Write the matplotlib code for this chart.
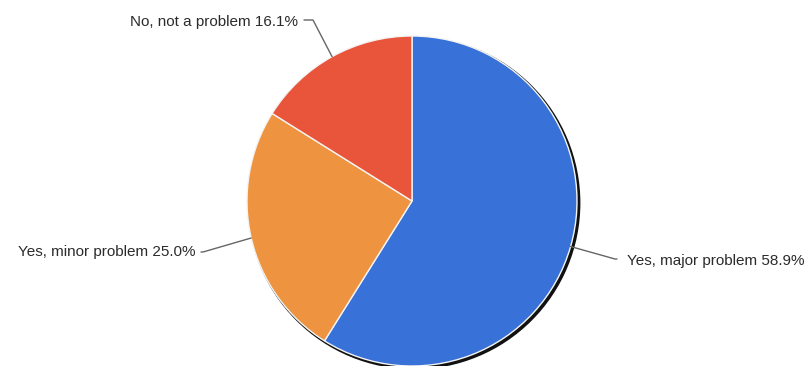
import numpy as np
import matplotlib.pyplot as plt
from matplotlib.patches import Circle

labels = ["Yes, major problem", "Yes, minor problem", "No, not a problem"]
shares = [58.9, 25.0, 16.1]
colors = ["#3871d8", "#ee9440", "#e8553a"]

W, H = 807, 366
cx, cy, r = 412, H - 201, 165

fig = plt.figure(figsize=(W / 100, H / 100), dpi=100, facecolor="w")
ax = fig.add_axes([0, 0, 1, 1])

# soft dark rim behind the pie, heavier to the lower right
ax.add_patch(Circle((cx + 2.0, cy - 2.0), r + 1.4, facecolor="#111111",
                    edgecolor="none", zorder=1))

wedges, _ = ax.pie(shares, colors=colors, startangle=90, counterclock=False,
                   center=(cx, cy), radius=r, frame=True,
                   wedgeprops=dict(edgecolor="#f4f4f4", linewidth=1.0, zorder=2))
for w in wedges:
    w.set_zorder(2)

# label layout: leader elbow and text anchor for each slice
label_pos = [
    dict(elbow=(615, H - 259), text=(627, H - 261), ha="left"),
    dict(elbow=(203, H - 252), text=(195, H - 252), ha="right"),
    dict(elbow=(313, H - 20), text=(298, H - 22), ha="right"),
]

for w, lab, val, pos in zip(wedges, labels, shares, label_pos):
    mid = np.deg2rad((w.theta1 + w.theta2) / 2)
    x0 = cx + r * np.cos(mid)
    y0 = cy + r * np.sin(mid)
    ex, ey = pos["elbow"]
    tx, ty = pos["text"]
    if pos["ha"] == "left":
        pts = [(x0, y0), (ex, ey), (tx - 10, ey)]
    else:
        pts = [(x0, y0), (ex, ey), (tx + 6, ey)]
    ax.plot([p[0] for p in pts], [p[1] for p in pts], color="#666666",
            lw=1.0, zorder=3, solid_capstyle="round")
    ax.text(tx, ty, "{0} {1:.1f}%".format(lab, val), ha=pos["ha"], va="center",
            fontsize=11, color="#2b2b2b", family="Liberation Sans")

ax.set_xlim(0, W)
ax.set_ylim(0, H)
ax.set_aspect("equal")
ax.axis("off")

fig.savefig("out.png", dpi=100, facecolor="w")
